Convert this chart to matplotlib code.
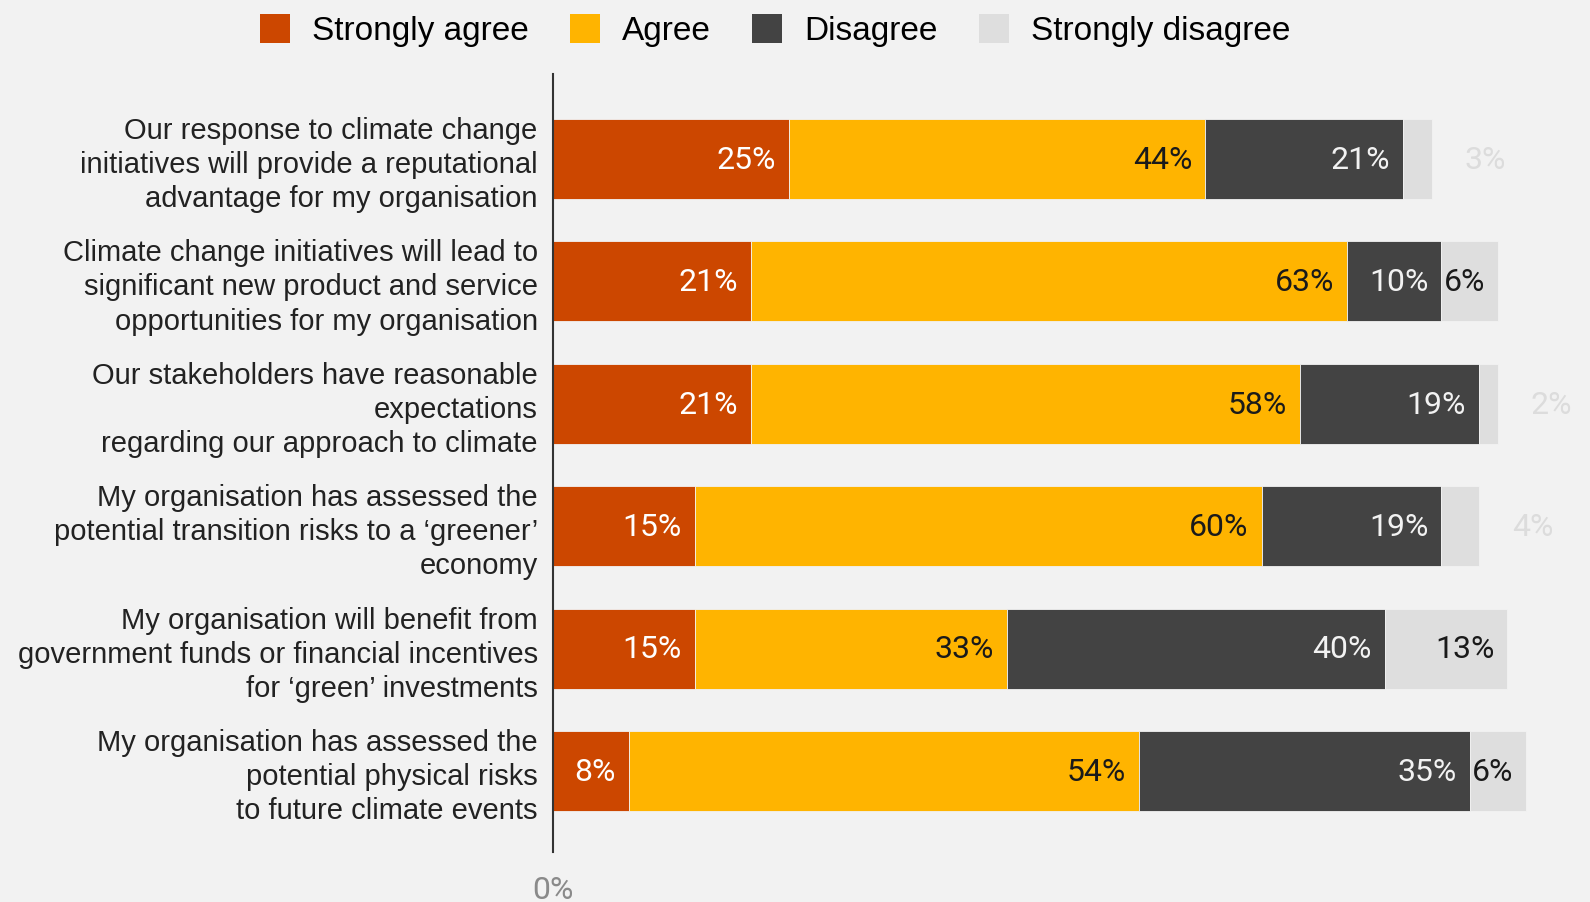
import matplotlib
matplotlib.use("Agg")
import matplotlib.pyplot as plt
from matplotlib.patches import Patch

categories = [
    "Our response to climate change\ninitiatives will provide a reputational\nadvantage for my organisation",
    "Climate change initiatives will lead to\nsignificant new product and service\nopportunities for my organisation",
    "Our stakeholders have reasonable\nexpectations\nregarding our approach to climate",
    "My organisation has assessed the\npotential transition risks to a \u2018greener\u2019\neconomy",
    "My organisation will benefit from\ngovernment funds or financial incentives\nfor \u2018green\u2019 investments",
    "My organisation has assessed the\npotential physical risks\nto future climate events",
]
strongly_agree = [25, 21, 21, 15, 15, 8]
agree = [44, 63, 58, 60, 33, 54]
disagree = [21, 10, 19, 19, 40, 35]
strongly_disagree = [3, 6, 2, 4, 13, 6]
series_names = ["Strongly agree", "Agree", "Disagree", "Strongly disagree"]

colors = ["#cc4700", "#ffb400", "#434343", "#dedede"]
label_colors = ["#ffffff", "#1a1a1a", "#f2f2f2", "#1a1a1a"]
bg = "#f2f2f2"

W, H, DPI = 1590, 902, 100
fig = plt.figure(figsize=(W / DPI, H / DPI), dpi=DPI, facecolor=bg)

# axes placement in pixels
ax_left, ax_right, ax_top, ax_bottom = 553, 1590, 74, 852
ax = fig.add_axes([ax_left / W, 1 - ax_bottom / H, (ax_right - ax_left) / W, (ax_bottom - ax_top) / H])
ax.set_facecolor(bg)

px_per_unit = 945 / 100.0
xmax = (ax_right - ax_left) / px_per_unit
ax.set_xlim(0, xmax)
n = len(categories)
step = 122.4
ax.set_ylim(n - 1 + 81 / step, -85 / step)

ypos = list(range(n))
bar_h = 80 / step
series = [strongly_agree, agree, disagree, strongly_disagree]
left = [0] * n
val_font = "Roboto"
for s, vals in enumerate(series):
    ax.barh(ypos, vals, left=left, height=bar_h, color=colors[s],
            edgecolor=bg, linewidth=0.6, zorder=2)
    for i, v in enumerate(vals):
        end = left[i] + v
        if v >= 5:
            ax.text(end - 13 / px_per_unit, i + 0.01, f"{v}%", ha="right", va="center",
                    fontsize=23, family=val_font, color=label_colors[s], zorder=3)
        else:
            ax.text(end + 33 / px_per_unit, i + 0.01, f"{v}%", ha="left", va="center",
                    fontsize=23, family=val_font, color="#dcdcdc", zorder=3)
    left = [left[i] + vals[i] for i in range(n)]

ax.set_yticks(ypos)
ax.set_yticklabels(categories, fontsize=21, family="Liberation Sans",
                   color="#222222", linespacing=1.28)
ax.tick_params(axis="y", length=0, pad=11)
ax.set_xticks([0])
ax.set_xticklabels(["0%"], fontsize=23, family=val_font, color="#8a8a8a")
ax.tick_params(axis="x", length=0, pad=17)

for sp in ["top", "right", "bottom"]:
    ax.spines[sp].set_visible(False)
ax.spines["left"].set_color("#333333")
ax.spines["left"].set_linewidth(1.5)
ax.spines["left"].set_zorder(4)

handles = [Patch(facecolor=c, edgecolor="none") for c in colors]
fig.legend(handles, series_names, loc="upper center", bbox_to_anchor=(0.4875, 1.018),
           ncol=4, frameon=False, handlelength=0.9, handleheight=0.95,
           handletextpad=0.65, columnspacing=1.25,
           prop={"family": "Liberation Sans", "size": 24})

fig.savefig("out.png", dpi=DPI, facecolor=bg)
